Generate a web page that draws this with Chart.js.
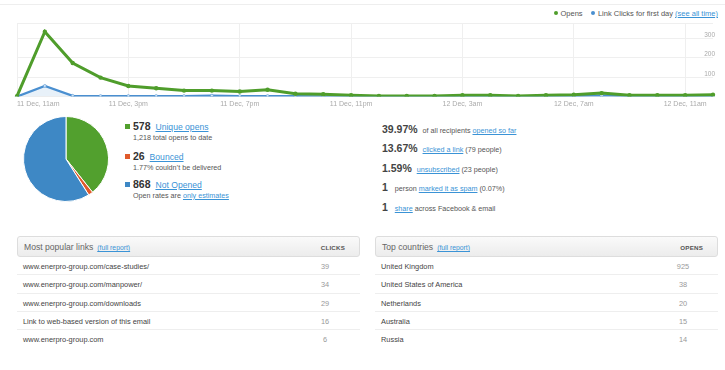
<!DOCTYPE html>
<html>
<head>
<meta charset="utf-8">
<script src="https://cdn.jsdelivr.net/npm/chart.js@4.4.0/dist/chart.umd.min.js"></script>
<style>
  body { margin: 0; width: 725px; height: 370px; background: #fff; position: relative; overflow: hidden;
         font-family: "Helvetica Neue", Helvetica, Arial, "Liberation Sans", sans-serif; color: #444; font-size: 8px; }
  .abs { position: absolute; white-space: nowrap; }
  a { color: #3a93d6; text-decoration: underline; }
  .topline { position: absolute; left: 0; top: 4px; width: 725px; height: 1px; background: #eee; }
  .legend { right: 7px; top: 9px; font-size: 7.5px; line-height: 10px; color: #555; }
  .legend .dot { display: inline-block; width: 4px; height: 4px; border-radius: 50%; margin-right: 3px; vertical-align: 1px; }
  .main { font-size: 10.5px; line-height: 12px; }
  .big { font-weight: bold; color: #333; }
  .sq { position: absolute; width: 5px; height: 5px; }
  .sub { font-size: 7.2px; line-height: 9px; color: #555; }
  .tbl { position: absolute; top: 236px; width: 343px; }
  .tbl .head { height: 19px; border: 1px solid #ddd; border-radius: 3px; background: linear-gradient(#fafafa, #ececec);
               position: relative; font-size: 8.6px; color: #666; }
  .tbl .head .t { position: absolute; left: 6px; top: 5px; }
  .tbl .head .t a { font-size: 6.8px; margin-left: 4px; }
  .tbl .head .c { position: absolute; right: 14px; top: 6.5px; font-size: 6.2px; font-weight: bold; color: #555; letter-spacing: 0.2px; }
  .tbl .row { height: 17.3px; border-bottom: 1px solid #eee; position: relative; font-size: 7.4px; color: #444; }
  .tbl .row:last-child { border-bottom: none; }
  .tbl .row .n { position: absolute; left: 6px; top: 5px; }
  .tbl .row .v { position: absolute; right: 25px; top: 5px; color: #999; width: 20px; text-align: center; }
</style>
</head>
<body>
<div class="topline"></div>

<div class="abs legend">
  <span class="dot" style="background:#4f9d2b"></span>Opens&nbsp;&nbsp;&nbsp;
  <span class="dot" style="background:#4a8fd0"></span>Link Clicks for first day <a>(see all time)</a>
</div>

<div style="position:absolute; left:0; top:18px; width:725px; height:93px;">
  <canvas id="lineChart"></canvas>
</div>

<div style="position:absolute; left:23px; top:116px; width:86px; height:86px;">
  <canvas id="pieChart"></canvas>
</div>

<div id="pieLegend"></div>
<div id="stats"></div>

<div class="tbl" style="left:17px;" id="linksTable"></div>
<div class="tbl" style="left:375px;" id="countriesTable"></div>

<script>
// --- Data: hourly activity for the first day ---
const hours = [
  '11 Dec, 11am', '11 Dec, 12pm', '11 Dec, 1pm', '11 Dec, 2pm', '11 Dec, 3pm', '11 Dec, 4pm',
  '11 Dec, 5pm', '11 Dec, 6pm', '11 Dec, 7pm', '11 Dec, 8pm', '11 Dec, 9pm', '11 Dec, 10pm',
  '11 Dec, 11pm', '12 Dec, 12am', '12 Dec, 1am', '12 Dec, 2am', '12 Dec, 3am', '12 Dec, 4am',
  '12 Dec, 5am', '12 Dec, 6am', '12 Dec, 7am', '12 Dec, 8am', '12 Dec, 9am', '12 Dec, 10am',
  '12 Dec, 11am', '12 Dec, 12pm'
];
const opens = [2, 335, 173, 98, 55, 43, 31, 31, 26, 35, 15, 12, 7, 3, 3, 3, 7, 7, 3, 7, 10, 18, 7, 7, 7, 10];
const clicks = [0, 55, 4, 3, 3, 3, 3, 5, 3, 3, 2, 1, 1, 0, 0, 0, 1, 1, 0, 1, 3, 6, 2, 2, 2, 3];
const yTickValues = [100, 200, 300];

// --- Data: pie summary ---
const pieLabels = ['Unique opens', 'Bounced', 'Not Opened'];
const pieValues = [578, 26, 868];
const pieColors = ['#52a02e', '#e05a2b', '#3e88c5'];
const pieSubtext = ['1,218 total opens to date', '1.77% couldn\u2019t be delivered', 'Open rates are <a>only estimates</a>'];

// --- Data: tables ---
const linkNames = ['www.enerpro-group.com/case-studies/', 'www.enerpro-group.com/manpower/',
  'www.enerpro-group.com/downloads', 'Link to web-based version of this email', 'www.enerpro-group.com'];
const linkClicks = [39, 34, 29, 16, 6];
const countryNames = ['United Kingdom', 'United States of America', 'Netherlands', 'Australia', 'Russia'];
const countryOpens = [925, 38, 20, 15, 14];

// --- Line chart ---
const GRID = '#efefef';
new Chart(document.getElementById('lineChart').getContext('2d'), {
  type: 'line',
  data: {
    labels: hours,
    datasets: [{
      label: 'Opens',
      data: opens,
      borderColor: '#4f9d2b',
      backgroundColor: '#4f9d2b',
      borderWidth: 3,
      pointRadius: 2.2,
      pointBorderWidth: 0,
      fill: false,
      tension: 0
    }, {
      label: 'Link Clicks for first day',
      data: clicks,
      borderColor: '#4a8fd0',
      backgroundColor: 'rgba(74, 143, 208, 0.13)',
      pointBackgroundColor: '#cfe3f5',
      pointBorderColor: '#4a8fd0',
      pointBorderWidth: 0.5,
      borderWidth: 2.2,
      pointRadius: 1.5,
      fill: 'origin',
      tension: 0
    }]
  },
  options: {
    responsive: true,
    maintainAspectRatio: false,
    animation: false,
    layout: { padding: { left: 17, right: 8, top: 4, bottom: 0 } },
    plugins: { legend: { display: false }, tooltip: { enabled: false } },
    scales: {
      x: {
        grid: {
          color: ctx => (ctx.index % 4 === 0 ? GRID : 'rgba(0,0,0,0)'),
          drawTicks: false
        },
        border: { display: false },
        ticks: {
          autoSkip: false,
          maxRotation: 0,
          align: 'inner',
          padding: 3,
          color: '#aaa',
          font: { size: 7, family: 'Arial, "Liberation Sans", sans-serif' },
          callback: function(value, index) {
            return index % 4 === 0 ? hours[index] : '';
          }
        }
      },
      y: {
        position: 'right',
        min: 0,
        max: 375,
        grid: { color: GRID, drawTicks: false },
        border: { display: false },
        ticks: {
          stepSize: 100,
          mirror: true,
          padding: 2,
          labelOffset: -3.5,
          color: '#aaa',
          font: { size: 6.5, family: 'Arial, "Liberation Sans", sans-serif' },
          callback: value => (yTickValues.includes(value) ? value : '')
        }
      }
    }
  }
});

// --- Pie chart ---
new Chart(document.getElementById('pieChart').getContext('2d'), {
  type: 'pie',
  data: {
    labels: pieLabels,
    datasets: [{ data: pieValues, backgroundColor: pieColors, borderColor: '#fff', borderWidth: 1, hoverOffset: 0 }]
  },
  options: {
    responsive: true,
    maintainAspectRatio: false,
    animation: false,
    plugins: { legend: { display: false }, tooltip: { enabled: false } }
  }
});

// --- Pie legend (HTML) ---
const pieLegend = document.getElementById('pieLegend');
const legendTops = [120, 150, 178];
pieLabels.forEach(function(label, i) {
  const top = legendTops[i];
  pieLegend.innerHTML +=
    '<div class="sq" style="left:125px; top:' + (top + 4) + 'px; background:' + pieColors[i] + '"></div>' +
    '<div class="abs main" style="left:133px; top:' + top + 'px;"><span class="big">' +
    pieValues[i] + '</span> <a style="font-size:8.6px; margin-left:2px">' + label + '</a></div>' +
    '<div class="abs sub" style="left:133px; top:' + (top + 12.5) + 'px;">' + pieSubtext[i] + '</div>';
});

// --- Right-hand stats ---
const statBig = ['39.97%', '13.67%', '1.59%', '1', '1'];
const statRest = ['of all recipients <a>opened so far</a>', '<a>clicked a link</a> (79 people)',
  '<a>unsubscribed</a> (23 people)', '&nbsp;person <a>marked it as spam</a> (0.07%)', '&nbsp;<a>share</a> across Facebook &amp; email'];
const statsEl = document.getElementById('stats');
statBig.forEach(function(big, i) {
  statsEl.innerHTML += '<div class="abs main" style="left:382px; top:' + (123 + i * 19.4) + 'px;">' +
    '<span class="big" style="color:#444">' + big + '</span> ' +
    '<span class="sub" style="margin-left:2px; line-height:12px">' + statRest[i] + '</span></div>';
});

// --- Tables ---
function buildTable(el, title, colName, names, values) {
  let html = '<div class="head"><span class="t">' + title + '<a>(full report)</a></span><span class="c">' + colName + '</span></div>';
  names.forEach(function(name, i) {
    html += '<div class="row"><span class="n">' + name + '</span><span class="v">' + values[i] + '</span></div>';
  });
  el.innerHTML = html;
}
buildTable(document.getElementById('linksTable'), 'Most popular links', 'CLICKS', linkNames, linkClicks);
buildTable(document.getElementById('countriesTable'), 'Top countries', 'OPENS', countryNames, countryOpens);
</script>
</body>
</html>
